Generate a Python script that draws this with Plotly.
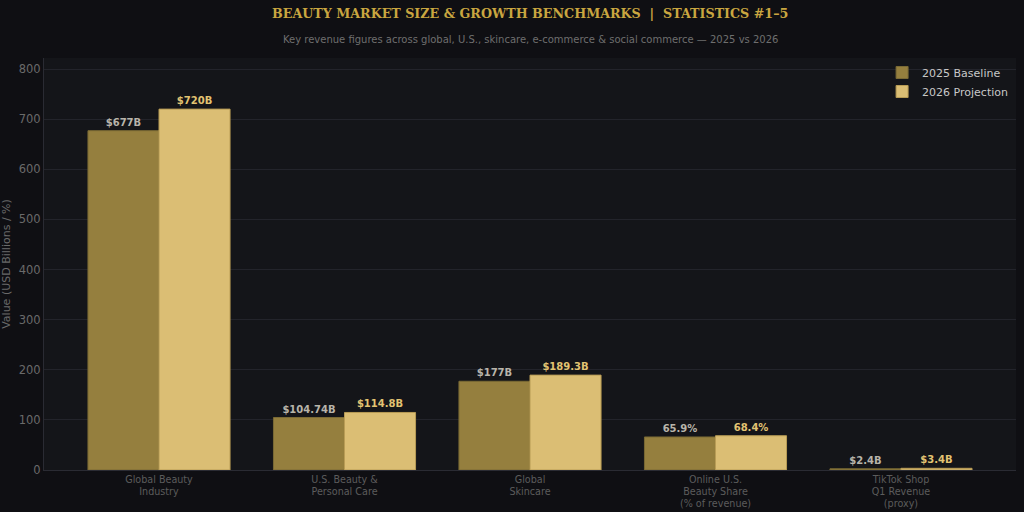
import plotly.graph_objects as go

categories = ["Global Beauty<br>Industry", "U.S. Beauty &<br>Personal Care", "Global<br>Skincare",
              "Online U.S.<br>Beauty Share<br>(% of revenue)", "TikTok Shop<br>Q1 Revenue<br>(proxy)"]
values_2025 = [677, 104.74, 177, 65.9, 2.4]
values_2026 = [720, 114.8, 189.3, 68.4, 3.4]
labels_2025 = ["$677B", "$104.74B", "$177B", "65.9%", "$2.4B"]
labels_2026 = ["$720B", "$114.8B", "$189.3B", "68.4%", "$3.4B"]
y_ticks = [0, 100, 200, 300, 400, 500, 600, 700, 800]

fig = go.Figure()
fig.add_trace(go.Bar(
    name="2025 Baseline", x=list(range(len(categories))), y=values_2025,
    text=labels_2025, textposition="outside", cliponaxis=False,
    textfont=dict(color="#b8b4aa", size=10, family="DejaVu Sans", weight="bold"),
    marker=dict(color="#957f3e", line=dict(color="#7a6a35", width=1)),
))
fig.add_trace(go.Bar(
    name="2026 Projection", x=list(range(len(categories))), y=values_2026,
    text=labels_2026, textposition="outside", cliponaxis=False,
    textfont=dict(color="#e2c372", size=10, family="DejaVu Sans", weight="bold"),
    marker=dict(color="#dbbe74", line=dict(color="#b89c55", width=1)),
))

fig.update_layout(
    width=1024, height=512,
    paper_bgcolor="#0f0f13",
    plot_bgcolor="#141519",
    margin=dict(l=44, r=8, t=58, b=42),
    barmode="group", bargap=0.234, bargroupgap=0,
    font=dict(family="DejaVu Sans", color="#777777", size=11),
    annotations=[
        dict(text="<b>BEAUTY MARKET SIZE &amp; GROWTH BENCHMARKS  |  STATISTICS #1–5</b>",
             xref="paper", yref="paper", x=0.5, y=1.0, yshift=45, xanchor="center", yanchor="middle",
             showarrow=False, font=dict(family="DejaVu Serif", size=12.7, color="#c9a640")),
        dict(text="Key revenue figures across global, U.S., skincare, e-commerce &amp; social commerce — 2025 vs 2026",
             xref="paper", yref="paper", x=0.5, y=1.0, yshift=19, xanchor="center", yanchor="middle",
             showarrow=False, font=dict(family="DejaVu Sans", size=10, color="#6e6e6e")),
    ],
    legend=dict(
        x=0.997, xanchor="right", y=1.0, yanchor="top",
        bgcolor="rgba(0,0,0,0)", font=dict(color="#c8c8c8", size=11),
        itemwidth=30, tracegroupgap=0,
    ),
    xaxis=dict(
        tickmode="array", tickvals=list(range(len(categories))), ticktext=categories,
        range=[-0.62, 4.62], showgrid=False, zeroline=False, automargin=False,
        tickfont=dict(color="#5c5c5c", size=9.6), linecolor="#2a2b33", showline=True,
        ticklabelstandoff=0,
    ),
    yaxis=dict(
        range=[0, 822], tickvals=y_ticks, gridcolor="#23242b", zeroline=False, automargin=False,
        tickfont=dict(color="#6a6a6a", size=11.5),
        title=dict(text="Value (USD Billions / %)", font=dict(color="#6a6a6a", size=11), standoff=6),
        showline=True, linecolor="#2a2b33",
    ),
)

fig.write_html("out.html")
